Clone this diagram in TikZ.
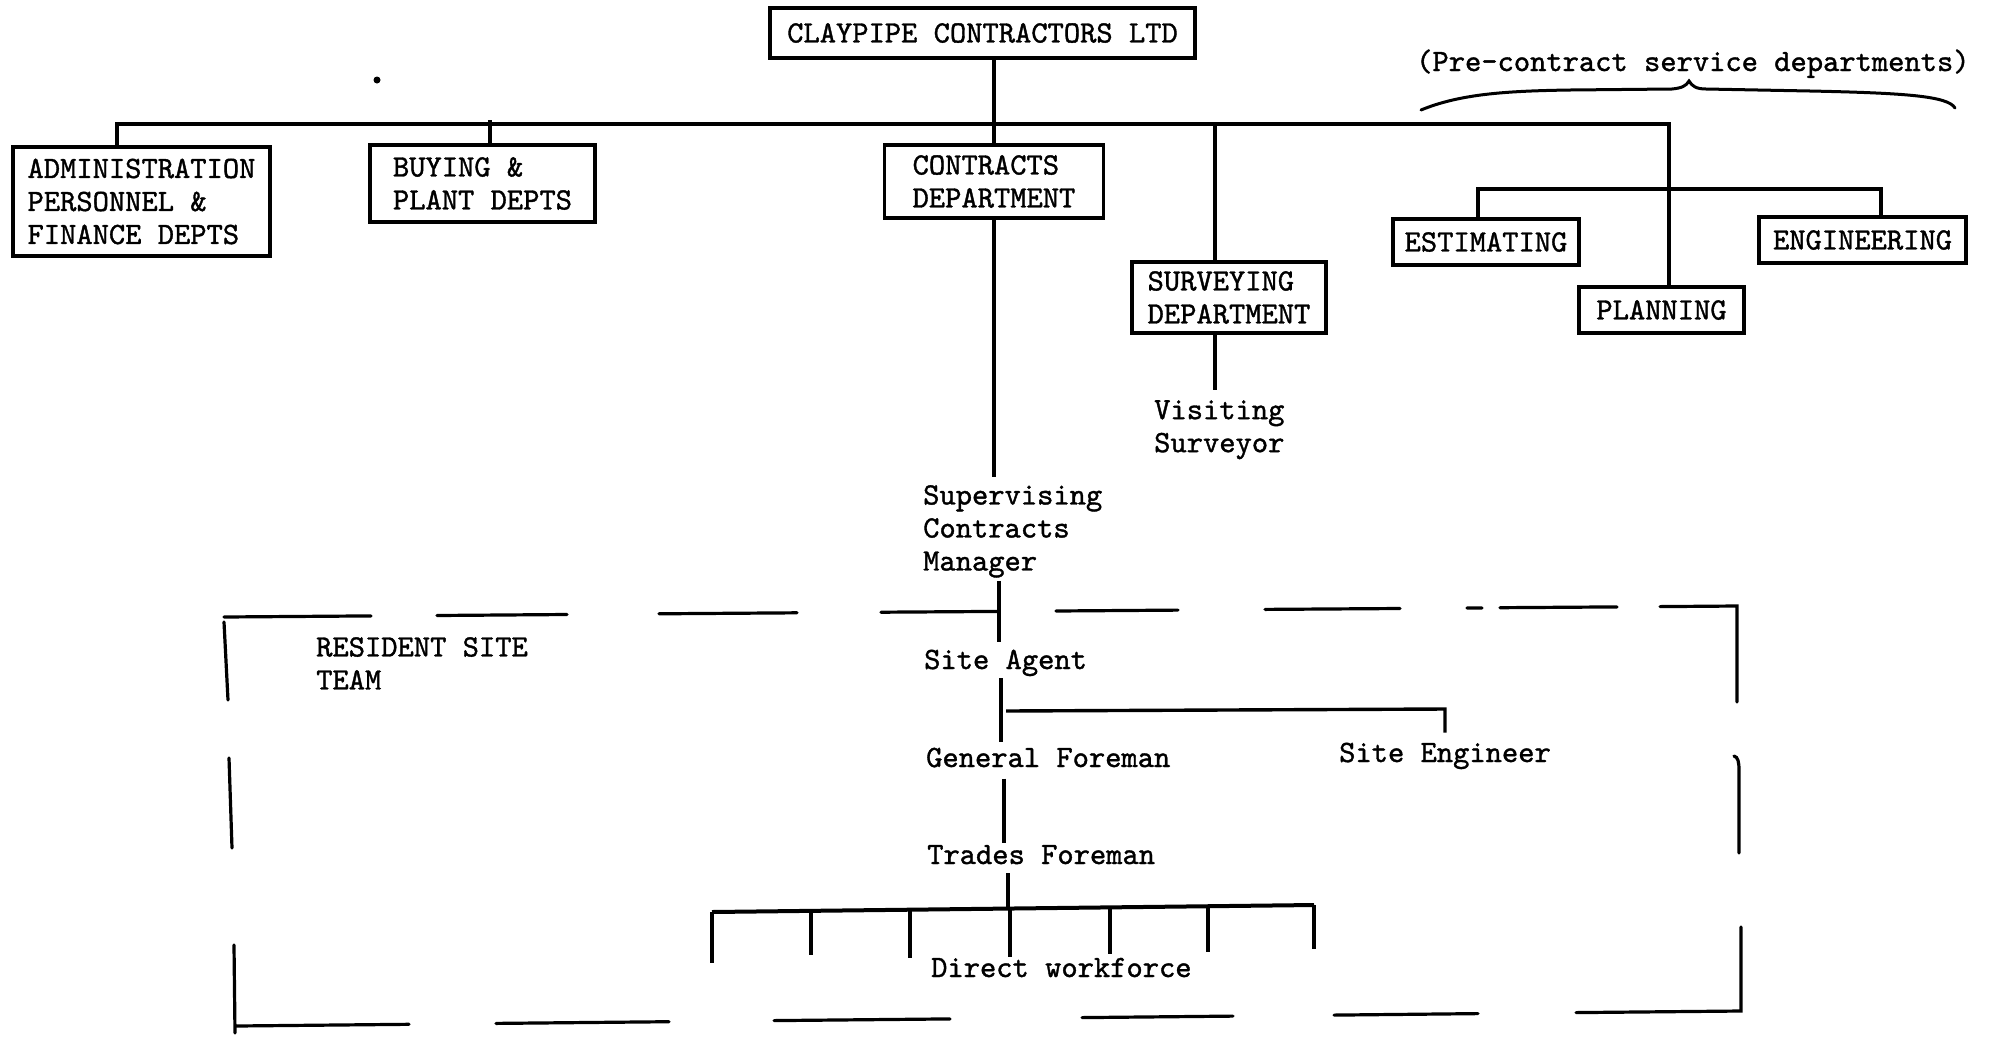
\documentclass[tikz,border=0pt]{standalone}
\usepackage{fontspec}
\usetikzlibrary{calc}
\newfontfamily\twfam{lmmono10-regular.otf}[FakeBold=1.2]
\newcommand\twfont{\fontsize{31}{33}\selectfont\twfam}
\begin{document}
\begin{tikzpicture}[x=1pt,y=-1pt,
  dept/.style={draw, line width=3.2pt, rectangle, inner sep=0pt, align=left, font=\twfont},
  lbl/.style={inner sep=0pt, align=left, font=\twfont, anchor=north west},
  slbl/.style={inner sep=0pt, font=\twfont, anchor=base west},
  conn/.style={line width=3.4pt},
  frame/.style={line width=3.2pt, line cap=round}]
\fill[white] (0,0) rectangle (1992,1037);
\useasboundingbox (0,0) rectangle (1992,1037);

% boxes
\node[dept, minimum width=425pt, minimum height=50pt] (claypipe) at (982.5,33) {CLAYPIPE CONTRACTORS LTD};
\node[dept, minimum width=257pt, minimum height=109pt] (admin) at (141.5,201.5) {ADMINISTRATION\\PERSONNEL \&\\FINANCE DEPTS};
\node[dept, minimum width=225pt, minimum height=77pt] (buying) at (482.5,183.5) {BUYING \&\\PLANT DEPTS};
\node[dept, minimum width=219pt, minimum height=73pt] (contracts) at (994,181.5) {CONTRACTS\\DEPARTMENT};
\node[dept, minimum width=194pt, minimum height=71pt] (surveying) at (1229,297.5) {SURVEYING\\DEPARTMENT};
\node[dept, minimum width=186pt, minimum height=46pt] (estimating) at (1486,242) {ESTIMATING};
\node[dept, minimum width=165pt, minimum height=46pt] (planning) at (1661.5,310) {PLANNING};
\node[dept, minimum width=207pt, minimum height=46pt] (engineering) at (1862.5,240) {ENGINEERING};

% labels
\node[slbl] (precontract) at (1416,71) {(Pre-contract service departments)};
\node[lbl] (visiting) at (1154,400) {Visiting\\Surveyor};
\node[lbl] (supervising) at (923,485) {Supervising\\Contracts\\Manager};
\node[lbl] (resident) at (316,637) {RESIDENT SITE\\TEAM};
\node[slbl] (siteagent) at (924,669) {Site Agent};
\node[slbl] (genforeman) at (926,767) {General Foreman};
\node[slbl] (siteeng) at (1339,762) {Site Engineer};
\node[slbl] (tradesforeman) at (927,864) {Trades Foreman};
\node[slbl] (workforce) at (931,977) {Direct workforce};

% stray dot
\fill (377,80) circle (3.5pt);

% brace
\draw[line width=3pt, line cap=round] (1421,110) .. controls (1460,94) and (1505,91) .. (1570,90)
  -- (1672,89) .. controls (1682,88) and (1686,86) .. (1689,81)
  .. controls (1692,86) and (1696,89) .. (1706,89)
  -- (1810,91) .. controls (1905,93) and (1948,96) .. (1955,108);

% main bus
\coordinate (busL) at (117,124);
\coordinate (busR) at (1669,124);
\coordinate (jB) at (490,120);
\coordinate (jS) at (1215,124);
\draw[conn] (claypipe.south -| contracts.north) -- (contracts.north);
\draw[conn] (admin.north -| busL) -- (busL) -- (busR) -- (busR |- planning.north);
\draw[conn] (jB) -- (jB |- buying.north);
\draw[conn] (jS) -- (jS |- surveying.north);

% pre-contract sub bus
\coordinate (sbL) at (1478,189);
\coordinate (sbR) at (1881,189);
\draw[conn] (sbL |- estimating.north) -- (sbL) -- (sbR) -- (sbR |- engineering.north);

% downward chains
\draw[conn, shorten >=10pt] (surveying.south -| jS) -- (visiting.north -| jS);
\draw[conn, shorten >=8pt] (contracts.south) -- (contracts.south |- supervising.north);
\coordinate (spA) at (999,600);
\coordinate (spB) at (1001,700);
\coordinate (spC) at (1004,800);
\draw[conn, shorten <=3pt, shorten >=7pt] (supervising.south -| spA) -- (siteagent.north -| spA);
\draw[conn, shorten <=2pt, shorten >=6pt] (siteagent.south -| spB) -- (genforeman.north -| spB);
\draw[conn, shorten <=11pt, shorten >=2pt] (genforeman.south -| spC) -- (tradesforeman.north -| spC);

% site engineer branch
\coordinate (brL) at (1006,711);
\coordinate (brR) at (1445,709);
\draw[conn, shorten >=10pt] (brL) -- (brR) -- (siteeng.north -| brR);

% workforce bus
\coordinate (wbL) at (712,912);
\coordinate (wbR) at (1314,905);
\coordinate (wbM) at ($(wbL)!0.4917!(wbR)$);
\draw[conn, line width=4pt] (wbL) -- (wbR);
\draw[conn, shorten <=9pt] (tradesforeman.south -| wbM) -- (wbM);
\foreach \t/\len in {0/51, 0.1645/44, 0.3289/48, 0.4950/48, 0.6611/47, 0.8239/46, 1/44}
  \draw[conn] ($(wbL)!\t!(wbR)$) -- ++(0,\len);

% dashed resident site team frame (hand drawn)
\draw[frame] (224,617) -- (371,615.9);
\draw[frame] (437,615.5) -- (567,614.5);
\draw[frame] (659,613.8) -- (797,612.8);
\draw[frame] (881,612.2) -- (999,611.4);
\draw[frame] (1056,611) -- (1178,610.1);
\draw[frame] (1265,609.4) -- (1400,608.5);
\draw[frame] (1467,608) -- (1482,607.9);
\draw[frame] (1500,607.7) -- (1617,606.9);
\draw[frame] (1660,606.6) -- (1737,606) -- (1737,702);
\draw[frame] (1734,756) .. controls (1738,757) and (1739,762) .. (1739,770) -- (1739,853);
\draw[frame] (1741,927) -- (1741,1011) -- (1576,1012.6);
\draw[frame] (1478,1013.6) -- (1334,1015.1);
\draw[frame] (1233,1016.1) -- (1082,1017.6);
\draw[frame] (950,1018.9) -- (774,1020.6);
\draw[frame] (669,1021.7) -- (496,1023.4);
\draw[frame] (409,1024.3) -- (236,1026);
\draw[frame] (224,622) -- (228,700);
\draw[frame] (229,758) -- (232,848);
\draw[frame] (234,945) -- (235,1033);
\end{tikzpicture}
\end{document}
